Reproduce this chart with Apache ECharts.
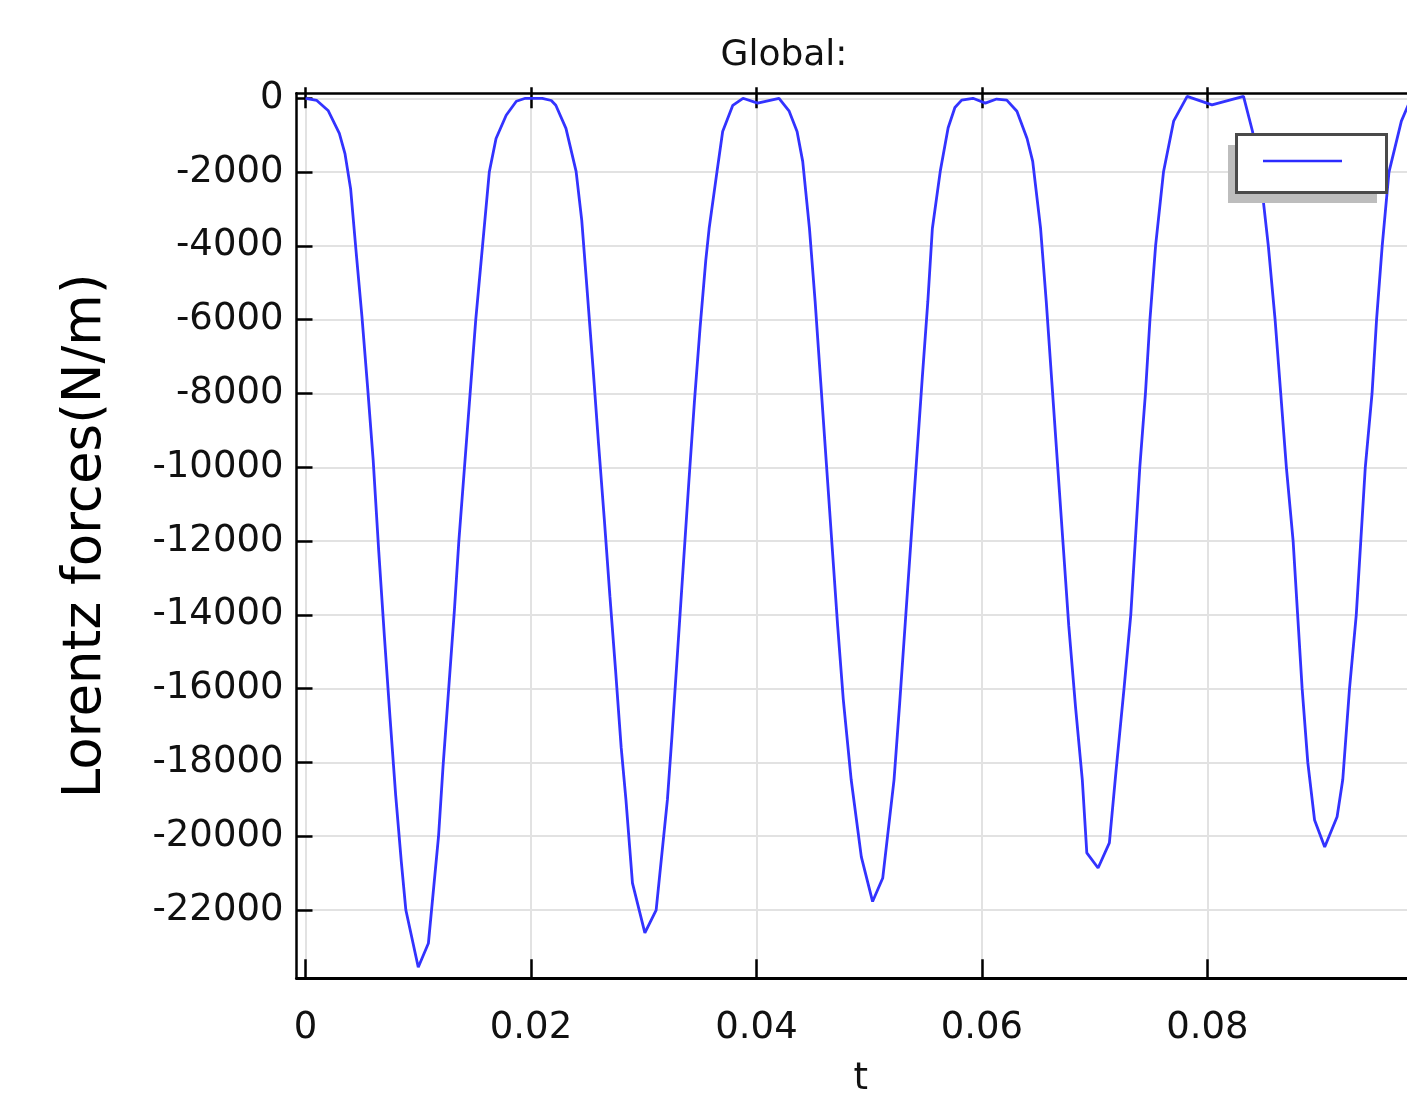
<!DOCTYPE html>
<html>
<head>
	<meta charset="utf-8">
	<title>Global</title>
	<script src="https://cdn.jsdelivr.net/npm/echarts@6/dist/echarts.min.js"></script>
	<style>
		html, body { margin: 0; padding: 0; background: #FFFFFF; }
		#chart { width: 1407px; height: 1097px; }
	</style>
</head>
<body>
<div id="chart"></div>
<script type="text/javascript">
	// 读图得到的采样点 (t, Lorentz force)
	var timeSec = [
		0, 0.001, 0.002, 0.003, 0.0035, 0.004, 0.0045, 0.005, 0.0055, 0.006, 0.0065, 0.007, 0.0075, 0.008, 0.0085, 0.0089,
		0.0100, 0.0109, 0.0118, 0.0122, 0.0127, 0.0132, 0.0136, 0.0141, 0.0146, 0.0151, 0.0157, 0.0163, 0.0169, 0.0178, 0.0187, 0.0195,
		0.0210, 0.0218, 0.0222, 0.0231, 0.0240, 0.0245, 0.0249, 0.0255, 0.0260, 0.0265, 0.0270, 0.0275, 0.0280, 0.02842, 0.0290,
		0.0301, 0.0311, 0.0321, 0.0325, 0.0330, 0.0335, 0.0340, 0.0345, 0.0350, 0.0355, 0.0358, 0.0365, 0.0370, 0.0379, 0.0388,
		0.0401, 0.0420, 0.0429, 0.0436, 0.0441, 0.0447, 0.0452, 0.0457, 0.0462, 0.0467, 0.0472, 0.0477, 0.0484, 0.0493,
		0.0503, 0.0512, 0.0522, 0.0527, 0.0532, 0.0537, 0.0542, 0.0547, 0.0552, 0.0556, 0.0563, 0.0570, 0.0576, 0.0582, 0.0592,
		0.0603, 0.0613, 0.0622, 0.0631, 0.0640, 0.0645, 0.0652, 0.0657, 0.0662, 0.0667, 0.0672, 0.0677, 0.0683, 0.0689, 0.0693,
		0.0703, 0.0713, 0.0719, 0.0726, 0.0732, 0.0736, 0.0740, 0.0745, 0.0749, 0.0754, 0.0761, 0.0770, 0.0782,
		0.0804, 0.0832, 0.0840, 0.0849, 0.0854, 0.0860, 0.0865, 0.0870, 0.0876, 0.0880, 0.0884, 0.0889, 0.0895,
		0.0904, 0.0915, 0.0920, 0.0926, 0.0932, 0.0936, 0.0940, 0.0946, 0.0950, 0.0955, 0.0961, 0.0972, 0.0978, 0.0985
	];
	var forceNpm = [
		0, -60, -330, -950, -1500, -2450, -4200, -5900, -7800, -9800, -12300, -14600, -16800, -18900, -20700, -22000,
		-23550, -22900, -20000, -18100, -16000, -13900, -12000, -10000, -8000, -6000, -4000, -2000, -1090, -460, -80, 0,
		0, -60, -190, -815, -1980, -3300, -4890, -7300, -9400, -11400, -13500, -15500, -17600, -19010, -21270,
		-22620, -22000, -19010, -17300, -15000, -12700, -10400, -8200, -6200, -4400, -3530, -1980, -900, -190, 0,
		-130, 0, -350, -900, -1710, -3530, -5500, -7700, -9900, -12100, -14300, -16300, -18470, -20560,
		-21770, -21130, -18470, -16400, -14200, -12000, -9800, -7600, -5500, -3530, -1980, -800, -250, -50, 0,
		-130, -20, -50, -350, -1090, -1710, -3530, -5500, -7700, -9900, -12100, -14300, -16500, -18470, -20450,
		-20860, -20180, -18200, -16000, -14000, -12000, -10000, -8000, -6000, -4000, -2000, -620, 50,
		-180, 50, -900, -2630, -4000, -6000, -8000, -10000, -12000, -14000, -16000, -18000, -19560,
		-20290, -19470, -18470, -16000, -14000, -12000, -10000, -8000, -6000, -4000, -2000, -620, -190, -50
	];
	var xTicks = [0, 0.02, 0.04, 0.06, 0.08];
	var yTicks = [0, -2000, -4000, -6000, -8000, -10000, -12000, -14000, -16000, -18000, -20000, -22000];

	var seriesData = [];
	for (var i = 0; i < timeSec.length; i++) {
		seriesData.push([timeSec[i], forceNpm[i]]);
	}

	var myChart = echarts.init(document.getElementById('chart'), null, {renderer: 'canvas'});
	var fontName = 'DejaVu Sans';
	// 右侧被裁掉，所以 max 停在画面边缘
	var xMin = -0.0008, xMax = 0.0977;

	var option = {
		animation: false,
		backgroundColor: '#FFFFFF',
		title: {
			text: 'Global:',
			left: 779,
			top: 33,
			textAlign: 'center',
			textStyle: {fontFamily: fontName, fontSize: 36, fontWeight: 'normal', color: '#111'}
		},
		grid: {
			left: 296.5,
			top: 93.3,
			right: 0,
			bottom: 118.7,
			containLabel: false,
			outerBoundsMode: 'none'
		},
		xAxis: [
			{
				type: 'value',
				position: 'bottom',
				min: xMin,
				max: xMax,
				name: 't',
				nameLocation: 'middle',
				nameGap: 83,
				nameTextStyle: {fontFamily: fontName, fontSize: 37, color: '#111', padding: [0, 0, 0, 18]},
				axisLine: {show: true, onZero: false, lineStyle: {color: '#000', width: 3}},
				axisTick: {show: true, inside: true, length: 19, customValues: xTicks, lineStyle: {color: '#000', width: 2.5}},
				axisLabel: {show: true, margin: 32, customValues: xTicks, fontFamily: fontName, fontSize: 37, color: '#111',
					formatter: function (v) { return String(v); }},
				splitLine: {show: true, lineStyle: {color: '#e2e2e2', width: 2}}
			},
			{
				type: 'value',
				position: 'top',
				min: xMin,
				max: xMax,
				axisLine: {show: true, onZero: false, lineStyle: {color: '#000', width: 2.5}},
				axisTick: {show: true, inside: true, length: 15, customValues: xTicks, lineStyle: {color: '#000', width: 2.5}},
				axisLabel: {show: false},
				splitLine: {show: false}
			},
			{
				type: 'value',
				position: 'top',
				min: xMin,
				max: xMax,
				axisLine: {show: false, onZero: false},
				axisTick: {show: true, inside: false, length: 6, customValues: xTicks, lineStyle: {color: '#000', width: 2.5}},
				axisLabel: {show: false},
				splitLine: {show: false}
			}
		],
		yAxis: [
			{
				type: 'value',
				min: -23850,
				max: 135,
				name: 'Lorentz forces(N/m)',
				nameLocation: 'middle',
				nameGap: 184,
				nameRotate: 90,
				nameTextStyle: {fontFamily: fontName, fontSize: 53, color: '#000'},
				axisLine: {show: true, onZero: false, lineStyle: {color: '#000', width: 2.5}},
				axisTick: {show: true, inside: true, length: 16, customValues: yTicks, lineStyle: {color: '#000', width: 2.5}},
				axisLabel: {show: true, margin: 13, customValues: yTicks, fontFamily: fontName, fontSize: 37, color: '#111',
					formatter: function (v) { return String(v); }},
				splitLine: {show: true, lineStyle: {color: '#e2e2e2', width: 2}}
			}
		],
		series: [
			{
				name: 'force',
				type: 'line',
				xAxisIndex: 0,
				yAxisIndex: 0,
				symbol: 'none',
				smooth: false,
				clip: true,
				lineStyle: {color: '#3333ff', width: 2.8},
				data: seriesData
			}
		],
		// 图例框（无文字），盖在曲线上面
		graphic: [
			{type: 'rect', z: 100, shape: {x: 1228, y: 145, width: 149, height: 58}, style: {fill: '#bdbdbd'}},
			{type: 'rect', z: 101, shape: {x: 1236.5, y: 134.5, width: 150, height: 58}, style: {fill: '#fff', stroke: '#4a4a4a', lineWidth: 3}},
			{type: 'line', z: 102, shape: {x1: 1263, y1: 161, x2: 1342, y2: 161}, style: {stroke: '#2b2bff', lineWidth: 2.5}}
		]
	};
	myChart.setOption(option);
</script>
</body>
</html>
